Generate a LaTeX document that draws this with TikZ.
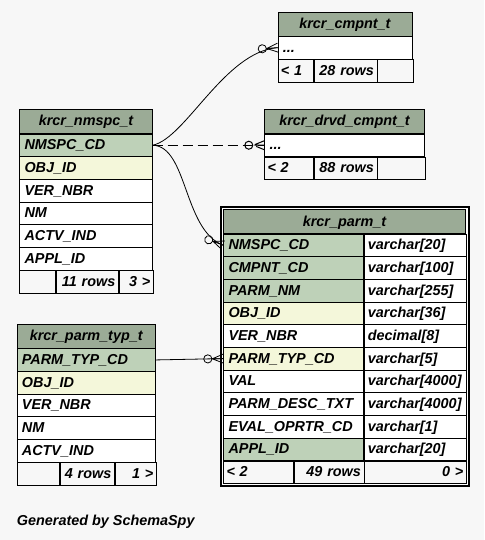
\documentclass[tikz,border=0pt]{standalone}
\usepackage{fontspec}
\setmainfont{Liberation Sans}
\usetikzlibrary{arrows.meta,positioning,fit,backgrounds}
\definecolor{hdrgreen}{HTML}{9BAB96}
\definecolor{keygreen}{HTML}{BED1B8}
\definecolor{idxyellow}{HTML}{F4F7DA}
\definecolor{bggray}{HTML}{F7F7F7}
\hyphenpenalty=10000

% crow's foot, three prongs
\pgfdeclarearrow{
    name = Crow,
    parameters = {\the\pgfarrowlength,\the\pgfarrowwidth},
    setup code = {
        \pgfarrowssettipend{0pt}
        \pgfarrowssetlineend{0pt}
        \pgfarrowssetbackend{-\pgfarrowlength}
        \pgfarrowsupperhullpoint{0pt}{.5\pgfarrowwidth}
        \pgfarrowsupperhullpoint{-\pgfarrowlength}{0pt}
        \pgfarrowssavethe\pgfarrowlength
        \pgfarrowssavethe\pgfarrowwidth
    },
    drawing code = {
        \pgfpathmoveto{\pgfqpoint{0pt}{.5\pgfarrowwidth}}
        \pgfpathlineto{\pgfqpoint{-\pgfarrowlength}{0pt}}
        \pgfpathlineto{\pgfqpoint{0pt}{-.5\pgfarrowwidth}}
        \pgfpathmoveto{\pgfqpoint{0pt}{0pt}}
        \pgfpathlineto{\pgfqpoint{-\pgfarrowlength}{0pt}}
        \pgfusepathqstroke
    },
    defaults = {length=10pt, width=8pt}
}

\begin{document}
\begin{tikzpicture}[x=1pt, y=-1pt, font=\fontsize{14.4}{17}\selectfont\bfseries\itshape,
    thead/.style={draw, fill=hdrgreen, anchor=north west, minimum height=24pt, inner sep=0pt, text height=10.5pt, text depth=1.5pt},
    trow/.style={draw, fill=white, anchor=north west, minimum height=22.67pt, inner xsep=5pt, inner ysep=0pt, text height=10.5pt, text depth=1.5pt, align=left},
    ttype/.style={trow, inner xsep=4pt},
    tfoot/.style={trow, fill=bggray, inner xsep=3pt},
    link/.style={line width=0.8pt, -{Circle[open, length=9pt, width=9pt] Crow[length=11pt, width=9pt]}}]
    \useasboundingbox (0,0) rectangle (484,540);

    % krcr_cmpnt_t
    \node[thead, minimum width=134pt] (cmpnt) at (277.7,11.7) {krcr\_cmpnt\_t};
    \node[trow, text width=124pt] (cmpnt1) at (cmpnt.south west) {...};
    \node[tfoot, text width=29.6pt] (cmpntF1) at (cmpnt1.south west) {< 1};
    \node[tfoot, text width=57pt, align=right] (cmpntF2) at (cmpntF1.north east) {28 rows};
    \node[tfoot, text width=29.4pt] (cmpntF3) at (cmpntF2.north east) {};

    % krcr_drvd_cmpnt_t
    \node[thead, minimum width=160pt] (drvd) at (264.3,109.3) {krcr\_drvd\_cmpnt\_t};
    \node[trow, text width=150pt] (drvd1) at (drvd.south west) {...};
    \node[tfoot, text width=43pt] (drvdF1) at (drvd1.south west) {< 2};
    \node[tfoot, text width=57pt, align=right] (drvdF2) at (drvdF1.north east) {88 rows};
    \node[tfoot, text width=42pt] (drvdF3) at (drvdF2.north east) {};

    % krcr_nmspc_t
    \node[thead, minimum width=133pt] (nmspc) at (19.3,109.3) {krcr\_nmspc\_t};
    \foreach \txt/\clr [count=\i] in {NMSPC\_CD/keygreen, OBJ\_ID/idxyellow, VER\_NBR/white, NM/white, ACTV\_IND/white, APPL\_ID/white}
        \node[trow, fill=\clr, text width=123pt, yshift={-(\i-1)*22.67pt}] (nmspc\i) at (nmspc.south west) {\txt};
    \node[tfoot, text width=30pt] (nmspcF1) at (nmspc6.south west) {};
    \node[tfoot, text width=56.4pt, align=right] (nmspcF2) at (nmspcF1.north east) {11 rows};
    \node[tfoot, text width=28.6pt, align=right] (nmspcF3) at (nmspcF2.north east) {3 >};

    % krcr_parm_typ_t
    \node[thead, minimum width=138.6pt] (typ) at (16.7,324) {krcr\_parm\_typ\_t};
    \foreach \txt/\clr [count=\i] in {PARM\_TYP\_CD/keygreen, OBJ\_ID/idxyellow, VER\_NBR/white, NM/white, ACTV\_IND/white}
        \node[trow, fill=\clr, text width=128.6pt, yshift={-(\i-1)*22.67pt}] (typ\i) at (typ.south west) {\txt};
    \node[tfoot, text width=36.6pt] (typF1) at (typ5.south west) {};
    \node[tfoot, text width=48.4pt, align=right] (typF2) at (typF1.north east) {4 rows};
    \node[tfoot, text width=35.6pt, align=right] (typF3) at (typF2.north east) {1 >};

    % krcr_parm_t
    \node[thead, minimum width=242pt] (parm) at (223.3,209.3) {krcr\_parm\_t};
    \foreach \txt/\clr/\typ [count=\i] in {NMSPC\_CD/keygreen/varchar[20], CMPNT\_CD/keygreen/varchar[100],
        PARM\_NM/keygreen/varchar[255], OBJ\_ID/idxyellow/varchar[36], VER\_NBR/white/decimal[8],
        PARM\_TYP\_CD/idxyellow/varchar[5], VAL/white/varchar[4000], PARM\_DESC\_TXT/white/varchar[4000],
        EVAL\_OPRTR\_CD/white/varchar[1], APPL\_ID/keygreen/varchar[20]}
    {
        \node[trow, fill=\clr, text width=130pt, yshift={-(\i-1)*22.67pt}] (parm\i) at (parm.south west) {\txt};
        \node[ttype, text width=94pt] (parmT\i) at (parm\i.north east) {\typ};
    }
    \node[tfoot, text width=64pt] (parmF1) at (parm10.south west) {< 2};
    \node[tfoot, text width=64pt, align=right] (parmF2) at (parmF1.north east) {49 rows};
    \node[tfoot, text width=96pt, align=right] (parmF3) at (parmF2.north east) {0 >};

    \begin{scope}[on background layer]
        \fill[bggray] (0,0) rectangle (484,540);
        \node[fit=(parm)(parmF3), draw, line width=2pt, fill=white, inner sep=2.5pt] (parmbox) {};
    \end{scope}

    % relationships
    \draw[link] (nmspc1.east) .. controls +(33,-7) and +(-53,4) .. (cmpnt1.west);
    \draw[link, line width=1pt, dash pattern=on 10pt off 5pt] (nmspc1.east) -- (drvd1.west);
    \draw[link] (nmspc1.east) .. controls +(35,1) and +(-40,-15) .. (parm1.west);
    \draw[link] (typ1.east) -- (parm6.west);

    \node[anchor=base west, inner sep=0pt] (credit) at (16.7,525) {Generated by SchemaSpy};
\end{tikzpicture}
\end{document}
